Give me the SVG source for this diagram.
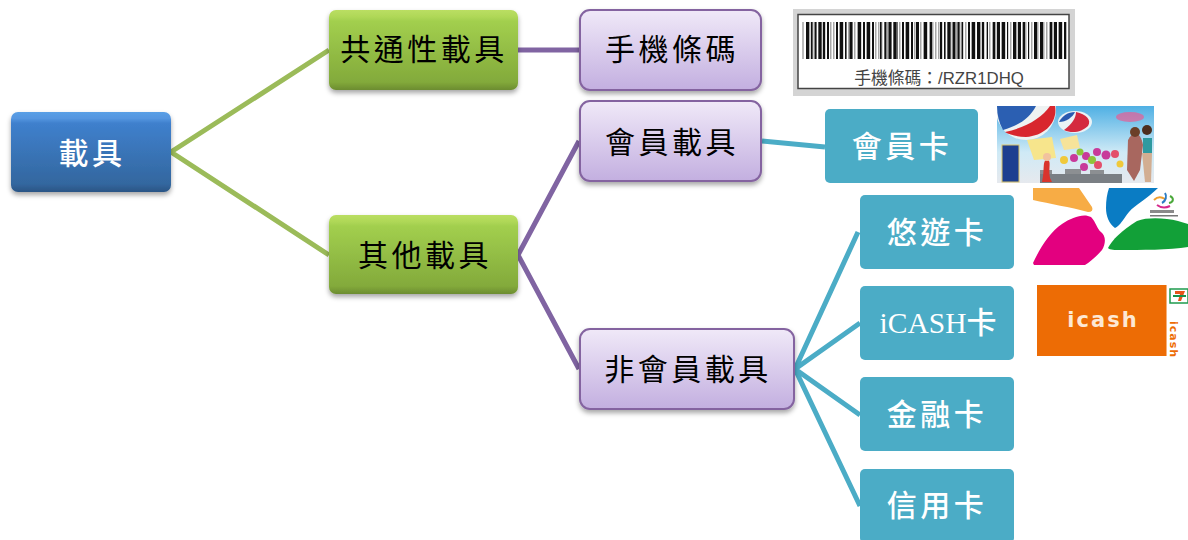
<svg xmlns="http://www.w3.org/2000/svg" width="1188" height="540" viewBox="0 0 1188 540">
<defs>
<linearGradient id="gBlue" x1="0" y1="0" x2="0" y2="1"><stop offset="0" stop-color="#5a9fe6"/><stop offset="0.08" stop-color="#5596e0"/><stop offset="0.14" stop-color="#3f80cd"/><stop offset="0.9" stop-color="#33679f"/><stop offset="1" stop-color="#2a5484"/></linearGradient>
<linearGradient id="gGreen" x1="0" y1="0" x2="0" y2="1"><stop offset="0" stop-color="#bade62"/><stop offset="0.08" stop-color="#b0d858"/><stop offset="0.14" stop-color="#a2cf4e"/><stop offset="0.9" stop-color="#83aa3b"/><stop offset="1" stop-color="#6c8c30"/></linearGradient>
<linearGradient id="gPurple" x1="0" y1="0" x2="0" y2="1"><stop offset="0" stop-color="#f0e9f8"/><stop offset="1" stop-color="#c3afe0"/></linearGradient>
<linearGradient id="gSky" x1="0" y1="0" x2="0" y2="1"><stop offset="0" stop-color="#4fb0e4"/><stop offset="0.6" stop-color="#cfeaf6"/><stop offset="1" stop-color="#e6e9ee"/></linearGradient>
<filter id="sh" x="-10%" y="-10%" width="120%" height="130%"><feDropShadow dx="0" dy="3" stdDeviation="2.5" flood-color="#000" flood-opacity="0.35"/></filter>
<clipPath id="cMember"><rect x="997" y="106" width="157" height="77"/></clipPath>
<clipPath id="cEasy"><rect x="1033" y="188" width="155" height="77"/></clipPath>
</defs>
<style>
text{font-family:"Noto Sans CJK TC","Noto Sans CJK SC",serif;font-size:30px;text-anchor:middle;letter-spacing:3.500px}
.w{fill:#fff;font-weight:500}.k{fill:#000}
.blue{fill:url(#gBlue);filter:url(#sh)}
.green{fill:url(#gGreen);filter:url(#sh)}
.purple{fill:url(#gPurple);stroke:#8464a0;stroke-width:2;filter:url(#sh)}
.teal{fill:#4bacc6}
.c{fill:none;stroke-width:5}
.cg{stroke:#9bbb59}.cp{stroke:#8064a2}.ct{stroke:#4bacc6}
.logo{font-family:"DejaVu Sans",sans-serif;font-weight:700;fill:#fde8d4}
</style>
<g id="connectors">
<path class="c cg" d="M329 50L171 152L329 255"/>
<path class="c cp" d="M518 50H579"/>
<path class="c cp" d="M579 141L518 255L579 369"/>
<path class="c ct" d="M762 141L825 147"/>
<path class="c ct" d="M858 232L795 369L860 323M795 369L860 415M795 369L860 506"/>
</g>
<g id="node-root"><rect class="blue" x="11" y="112" width="160" height="80" rx="7"/><text class="w" x="92" y="164">載具</text></g>
<g id="node-common"><rect class="green" x="329" y="10" width="189" height="80" rx="7"/><text class="k" x="424" y="60">共通性載具</text></g>
<g id="node-other"><rect class="green" x="329" y="215" width="189" height="79" rx="7"/><text class="k" x="425" y="266">其他載具</text></g>
<g id="node-mobile"><rect class="purple" x="580" y="10" width="181" height="80" rx="10"/><text class="k" x="672" y="60">手機條碼</text></g>
<g id="node-member"><rect class="purple" x="580" y="101" width="181" height="80" rx="10"/><text class="k" x="672" y="153">會員載具</text></g>
<g id="node-nonmember"><rect class="purple" x="580" y="329" width="214" height="80" rx="10"/><text class="k" x="688" y="380">非會員載具</text></g>
<g id="node-membercard"><rect class="teal" x="825" y="109" width="153" height="74" rx="5"/><text class="w" x="902" y="157">會員卡</text></g>
<g id="node-easycard"><rect class="teal" x="860" y="195" width="154" height="74" rx="5"/><text class="w" x="937" y="243">悠遊卡</text></g>
<g id="node-icash"><rect class="teal" x="860" y="286" width="154" height="74" rx="5"/><text class="w" x="938" y="333" style="font-family:'Liberation Serif','Noto Sans CJK TC',serif;letter-spacing:0;font-size:29.500px">iCASH<tspan style="font-family:'Noto Sans CJK TC',serif;font-size:30px">卡</tspan></text></g>
<g id="node-finance"><rect class="teal" x="860" y="377" width="154" height="74" rx="5"/><text class="w" x="937" y="425">金融卡</text></g>
<g id="node-credit"><rect class="teal" x="860" y="469" width="154" height="74" rx="5"/><text class="w" x="937" y="516">信用卡</text></g>

<g id="pic-barcode">
<rect x="793" y="9" width="282" height="87" fill="#d4d4d4"/>
<rect x="798" y="14.500" width="271" height="74" fill="#fff" stroke="#444" stroke-width="1.500"/>
<path d="M803 22V59M1066 22V59" stroke="#777" stroke-width="1"/>
<path d="M806 40.500H1066" stroke="#a8a8a8" stroke-width="37" fill="none" stroke-dasharray="1.500 1.500"/>
<g fill="none" stroke="#111" stroke-width="37">
<path stroke-dasharray="3 2 1.500 2 2 2 3 1.500 2 2 2 3.500" d="M806 40.500H832"/>
<path stroke-dasharray="2 2 3 2 1.500 3 3 2" d="M836 40.500H854"/>
<path stroke-dasharray="3 2 2 2 3 2 2" d="M858 40.500H875"/>
<path stroke-dasharray="1.500 3 2 2 3 2 3 1" d="M880 40.500H898"/>
<path stroke-dasharray="2 2 3 2 2 3 3" d="M902 40.500H919"/>
<path stroke-dasharray="3 3 2 3" d="M924 40.500H935"/>
<path stroke-dasharray="2 2 1.500 2 3 2 3 2 2 2" d="M940 40.500H963"/>
<path stroke-dasharray="2 2 3 2 3 2 2 3 2" d="M968 40.500H988"/>
<path stroke-dasharray="2 2 3 2 3 2" d="M993 40.500H1008"/>
<path stroke-dasharray="3 2 3 2 2 3" d="M1013 40.500H1029"/>
<path stroke-dasharray="3 3 3" d="M1034 40.500H1045"/>
<path stroke-dasharray="2 2 3 2 3 2 2" d="M1050 40.500H1066"/>
</g>
<text x="939" y="84" style="font-size:16.800px;letter-spacing:0;font-family:'Liberation Sans','Noto Sans CJK TC',sans-serif;fill:#444">手機條碼：/RZR1DHQ</text>
</g>

<g id="pic-member" clip-path="url(#cMember)">
<rect x="997" y="106" width="157" height="77" fill="url(#gSky)"/>
<circle cx="1026" cy="110" r="30" fill="#eef2f2"/>
<path d="M997 106H1036C1030 118 1018 126 1003 130C999 123 997 115 997 106Z" fill="#2b5fb2"/>
<path d="M1005 132C1025 128 1042 118 1050 106H1055C1058 122 1045 136 1026 137C1018 137 1010 135 1005 132Z" fill="#d8262e"/>
<ellipse cx="1075" cy="122" rx="17" ry="11" fill="#eaf2f6"/>
<path d="M1064 130C1072 124 1076 118 1076 112C1086 114 1092 120 1088 126C1082 132 1072 134 1064 130Z" fill="#d4293f"/>
<path d="M1059 122C1062 116 1068 112 1075 112C1073 117 1066 122 1059 122Z" fill="#2a5ab0"/>
<ellipse cx="1130" cy="117" rx="14" ry="5" fill="#e85c94" opacity="0.700"/>
<path d="M1027 140L1052 137L1056 158L1034 160Z" fill="#f7e58c"/>
<path d="M1060 139L1077 135L1080 148L1064 150Z" fill="#f6e39a"/>
<rect x="1002" y="145" width="17" height="37" fill="#1d3f90" stroke="#d8c26a"/>
<g fill="#c83a9a"><circle cx="1074" cy="158" r="4"/><circle cx="1086" cy="156" r="4"/><circle cx="1097" cy="152" r="4"/><circle cx="1106" cy="155" r="4.500"/><circle cx="1084" cy="167" r="4"/></g>
<g fill="#8fc43a"><circle cx="1080" cy="152" r="3.500"/><circle cx="1092" cy="160" r="4"/></g>
<g fill="#e34f6b"><circle cx="1098" cy="165" r="4"/><circle cx="1115" cy="154" r="4"/></g>
<g fill="#f0c93a"><circle cx="1064" cy="160" r="4"/><circle cx="1120" cy="164" r="3.500"/></g>
<rect x="1040" y="174" width="82" height="9" fill="#7a7f84"/>
<path d="M1040 170h12v4h-12zM1065 169h16v5h-16zM1090 170h14v4h-14z" fill="#8c8f92"/>
<path d="M1050 178C1048 168 1052 160 1047 160C1042 160 1045 170 1042 182H1052Z" fill="#d9342c"/>
<circle cx="1047" cy="157" r="4" fill="#f2c29e"/>
<path d="M1128 140C1133 130 1141 132 1143 145L1140 170L1134 181L1127 170Z" fill="#a8675f"/>
<circle cx="1135" cy="132" r="5" fill="#6b3f28"/>
<path d="M1143 138H1152V153H1143Z" fill="#2e9aa0"/>
<circle cx="1147" cy="130" r="5" fill="#4d2e1e"/>
<path d="M1142 153H1152L1151 182H1145Z" fill="#d2ae92"/>
</g>

<g id="pic-easycard" clip-path="url(#cEasy)">
<rect x="1033" y="188" width="155" height="77" fill="#fff"/>
<path d="M1033 188H1079L1092 207Q1094 212 1088 212C1070 207 1050 204 1033 200Z" fill="#f7ac45"/>
<path d="M1109 188H1158C1148 198 1135 205 1129 212C1124 218 1120 226 1115 228C1109 224 1106 216 1106 208C1106 200 1107 194 1109 188Z" fill="#0a7cc4"/>
<path d="M1033 263C1040 248 1050 232 1062 224C1072 217 1084 213 1091 217C1096 222 1097 229 1101 232C1106 236 1106 243 1102 250C1097 256 1090 262 1085 265H1034Z" fill="#e3007f"/>
<path d="M1108 248C1112 240 1122 230 1137 221C1148 217 1165 218 1178 221L1188 224V247C1170 250 1140 250 1120 250C1115 250 1110 250 1108 248Z" fill="#12a038"/>
<path d="M1154 200C1158 196 1162 197 1165 199" fill="none" stroke="#f0a030" stroke-width="2"/>
<path d="M1162 203C1166 201 1167 196 1165 193" fill="none" stroke="#2b7cc4" stroke-width="2"/>
<path d="M1157 205C1161 208 1166 208 1170 206" fill="none" stroke="#d62a8c" stroke-width="2"/>
<path d="M1169 203C1174 202 1174 198 1170 196" fill="none" stroke="#4aa83a" stroke-width="2"/>
<rect x="1150" y="210" width="24" height="3" fill="#8a8a8a"/>
<rect x="1150" y="215" width="28" height="1.500" fill="#777"/>
</g>

<g id="pic-icash">
<rect x="1037" y="285" width="129" height="71" fill="#ed6c05"/>
<rect x="1166" y="285" width="1" height="71" fill="#f5b27a"/>
<text class="logo" x="1103" y="326.500" style="font-size:21px;letter-spacing:2px">icash</text>
<rect x="1170" y="289" width="18" height="14" fill="#fff" stroke="#1f9a4d" stroke-width="1.500"/>
<path d="M1175 291H1185L1181 301H1178L1180 294H1175Z" fill="#e8541a"/>
<path d="M1173 295H1186V297H1173Z" fill="#16914a"/>
<text x="1170" y="321" transform="rotate(90 1170 321)" style="font-family:'DejaVu Sans',sans-serif;font-weight:700;font-size:11px;letter-spacing:1px;text-anchor:start;fill:#ed6c05">icash</text>
</g>
</svg>
